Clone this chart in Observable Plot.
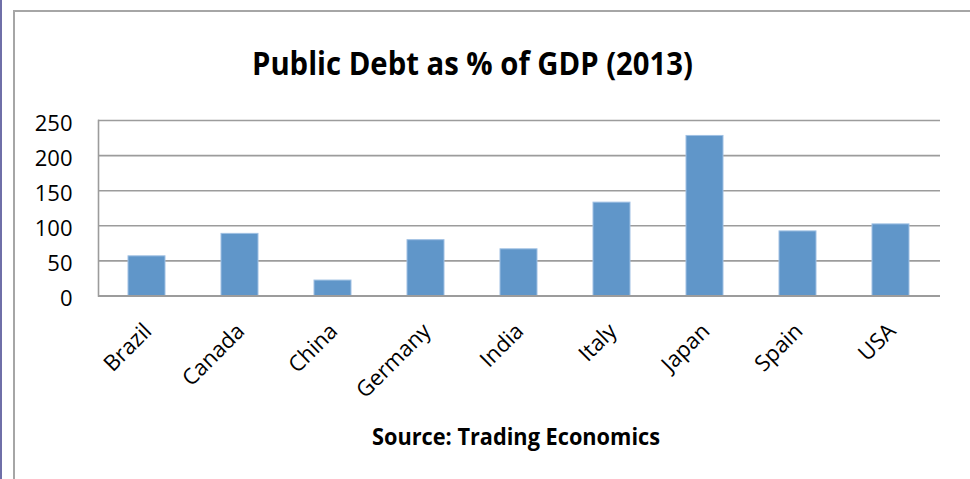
<!DOCTYPE html>
<html><head><meta charset="utf-8">
<script src="https://cdn.jsdelivr.net/npm/d3@7"></script>
<script src="https://cdn.jsdelivr.net/npm/@observablehq/plot@0.6"></script>
<style>
body{margin:0;background:#fff;}
#wrap{position:relative;width:970px;height:479px;overflow:hidden;background:#fff;font-family:"Open Sans",sans-serif;}
#edge{position:absolute;left:0;top:0;width:2px;height:479px;background:#6f6fa8;}
#frame{position:absolute;left:13px;top:10px;width:1000px;height:1000px;border:2px solid #a6a6a6;box-sizing:border-box;}
#chart{position:absolute;left:0;top:0;}
#labels{position:absolute;left:0;top:0;}
</style></head><body>
<div id="wrap"><div id="edge"></div><div id="frame"></div><div id="chart"></div><svg id="labels" width="970" height="479"></svg></div>
<script>
const countries = ["Brazil","Canada","China","Germany","India","Italy","Japan","Spain","USA"];
const debt = [56.5, 88.5, 22, 79.5, 66.5, 133, 228, 92, 102];
const yTicks = [0, 50, 100, 150, 200, 250];
const titleText = "Public Debt as % of GDP (2013)";
const sourceText = "Source: Trading Economics";

const data = countries.map((c, i) => ({country: c, debt: debt[i]}));

const chart = Plot.plot({
  width: 970, height: 479,
  marginLeft: 98, marginRight: 30, marginTop: 120, marginBottom: 183.5,
  style: {background: "transparent", fontFamily: "Open Sans", fontSize: "22px", color: "#000"},
  x: {domain: countries, paddingInner: 0.6, paddingOuter: 0.3, axis: null, label: null},
  y: {domain: [0, 250], axis: null, label: null},
  marks: [
    Plot.gridY(yTicks, {stroke: "#9c9c9c", strokeOpacity: 1, strokeWidth: 1.6}),
    Plot.frame({anchor: "left", stroke: "#9c9c9c", strokeOpacity: 1, strokeWidth: 1.6}),
    Plot.barY(data, {x: "country", y: "debt", fill: "#6096c9", stroke: "#9fc0e3", strokeWidth: 1}),
    Plot.ruleY([0], {stroke: "#9c9c9c", strokeWidth: 2}),
    Plot.axisY(yTicks, {tickSize: 0, tickPadding: 26, fontSize: 22, fill: "#000", dy: 3, label: null}),
    Plot.text(data, {x: "country", frameAnchor: "bottom", text: "country", rotate: -45,
      textAnchor: "end", lineAnchor: "bottom", dx: 6, dy: 36.5, fontSize: 22, fill: "#000"})
  ]
});
document.getElementById("chart").appendChild(chart);

const lab = d3.select("#labels");
lab.append("text")
  .attr("x", 472.5).attr("y", 75)
  .attr("text-anchor", "middle")
  .attr("font-family", "Open Sans").attr("font-weight", 700).attr("font-size", 33)
  .attr("textLength", 441).attr("lengthAdjust", "spacingAndGlyphs")
  .attr("fill", "#000")
  .text(titleText);
lab.append("text")
  .attr("x", 516).attr("y", 445)
  .attr("text-anchor", "middle")
  .attr("font-family", "Open Sans").attr("font-weight", 700).attr("font-size", 23.5)
  .attr("textLength", 288).attr("lengthAdjust", "spacingAndGlyphs")
  .attr("fill", "#000")
  .text(sourceText);
</script>
</body></html>
